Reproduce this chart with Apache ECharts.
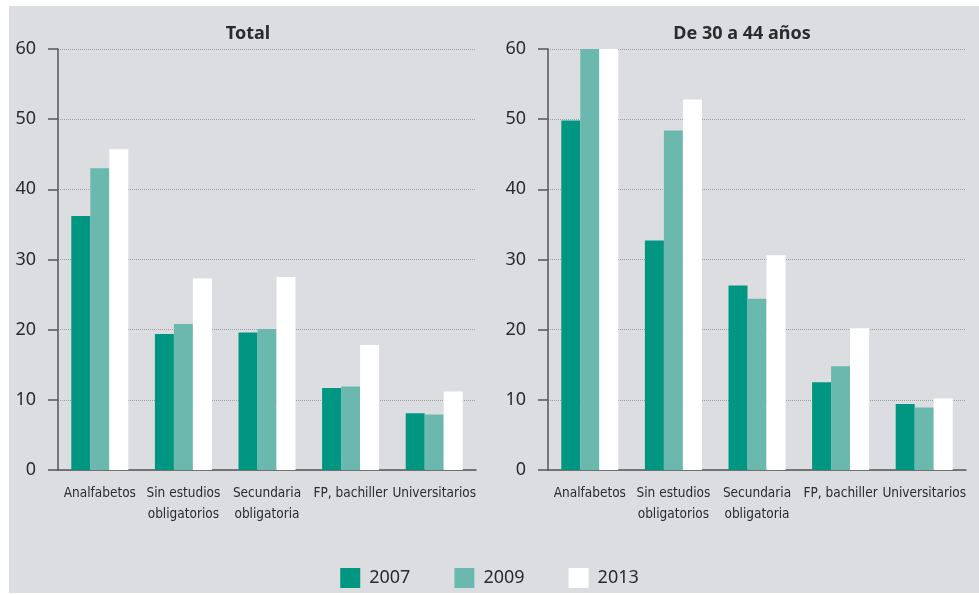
<!DOCTYPE html>
<html>
<head>
<meta charset="utf-8">
<script src="https://cdn.jsdelivr.net/npm/echarts@6/dist/echarts.min.js"></script>
<style>
body { margin: 0; background: #fff; }
#main { width: 979px; height: 595px; }
</style>
</head>
<body>
<div id="main"></div>
<script>
var categories = ['Analfabetos', 'Sin estudios\nobligatorios', 'Secundaria\nobligatoria', 'FP, bachiller', 'Universitarios'];
var years = ['2007', '2009', '2013'];
var panelTitles = ['Total', 'De 30 a 44 años'];

// Total
var total2007 = [36.2, 19.4, 19.6, 11.7, 8.1];
var total2009 = [43.0, 20.8, 20.1, 11.9, 7.9];
var total2013 = [45.7, 27.3, 27.5, 17.8, 11.2];

// De 30 a 44 años
var joven2007 = [49.8, 32.7, 26.3, 12.5, 9.4];
var joven2009 = [60, 48.4, 24.4, 14.8, 8.9];
var joven2013 = [60, 52.8, 30.6, 20.2, 10.2];

var colors = ['#009681', '#6bb9ae', '#ffffff'];
var textColor = '#2b2b2b';
var axisColor = '#555555';

var chart = echarts.init(document.getElementById('main'));

function xAxisFor(gi) {
    return {
        type: 'category',
        gridIndex: gi,
        data: categories,
        axisLine: { lineStyle: { color: axisColor, width: 1.5 } },
        axisTick: { length: 8, lineStyle: { color: axisColor, width: 1.5 } },
        axisLabel: {
            color: textColor,
            fontFamily: '"DejaVu Sans Condensed", "Liberation Sans Narrow", sans-serif',
            fontSize: 13.5,
            lineHeight: 21,
            margin: 13,
            interval: 0
        }
    };
}

function yAxisFor(gi) {
    return {
        type: 'value',
        gridIndex: gi,
        min: 0,
        max: 60,
        interval: 10,
        axisLine: { show: true, lineStyle: { color: axisColor, width: 1.5 } },
        axisTick: { show: true, length: 10, lineStyle: { color: axisColor, width: 1.5 } },
        axisLabel: {
            color: textColor,
            fontFamily: '"Noto Sans", sans-serif',
            fontSize: 18,
            margin: 22
        },
        splitLine: { lineStyle: { color: '#a0a0a0', type: 'dotted', width: 1 } }
    };
}

function barSeries(name, idx, data) {
    return {
        name: name,
        type: 'bar',
        xAxisIndex: idx,
        yAxisIndex: idx,
        data: data,
        barWidth: 19,
        barGap: '0%',
        itemStyle: { color: colors[years.indexOf(name)] }
    };
}

var option = {
    animation: false,
    graphic: [{
        type: 'rect',
        shape: { x: 9, y: 6, width: 970, height: 587 },
        style: { fill: '#dcdde0' },
        z: -10
    }],
    title: [
        {
            text: panelTitles[0], left: 243, top: 20, textAlign: 'center',
            textStyle: { color: textColor, fontSize: 18, fontWeight: 'bold', fontFamily: '"Noto Sans", sans-serif' }
        },
        {
            text: panelTitles[1], left: 737, top: 20, textAlign: 'center',
            textStyle: { color: textColor, fontSize: 18, fontWeight: 'bold', fontFamily: '"Noto Sans", sans-serif' }
        }
    ],
    legend: {
        data: years,
        bottom: 2,
        left: 'center',
        itemWidth: 20,
        itemHeight: 20,
        itemGap: 44,
        icon: 'rect',
        textStyle: { color: textColor, fontSize: 18, fontFamily: '"Noto Sans", sans-serif', padding: [0, 0, 0, 4] }
    },
    grid: [
        { left: 58, right: 503, top: 49, bottom: 125 },
        { left: 548, right: 13, top: 49, bottom: 125 }
    ],
    xAxis: [xAxisFor(0), xAxisFor(1)],
    yAxis: [yAxisFor(0), yAxisFor(1)],
    series: [
        barSeries('2007', 0, total2007),
        barSeries('2009', 0, total2009),
        barSeries('2013', 0, total2013),
        barSeries('2007', 1, joven2007),
        barSeries('2009', 1, joven2009),
        barSeries('2013', 1, joven2013)
    ]
};

chart.setOption(option);
</script>
</body>
</html>
